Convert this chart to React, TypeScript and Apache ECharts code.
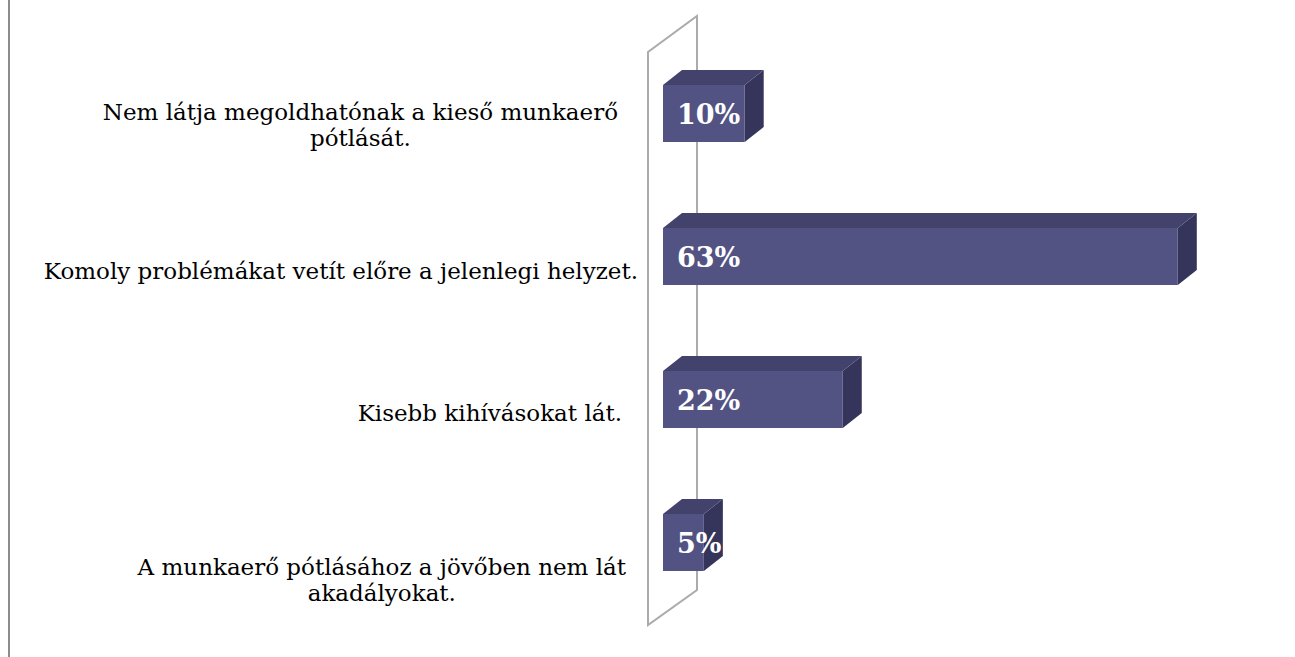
import React, { useEffect, useRef } from "react";
import * as echarts from "echarts";

const categories = [
  "Nem látja megoldhatónak a kieső munkaerő\npótlását.",
  "Komoly problémákat vetít előre a jelenlegi helyzet.",
  "Kisebb kihívásokat lát.",
  "A munkaerő pótlásához a jövőben nem lát\nakadályokat.",
];
const values = [10, 63, 22, 5];
const valueAxisMax = 70;

// per-category label nudges (layout only): [top, right, bottom, left] padding
const labelPadding = [
  [8, 20, 0, 0],
  [0, 0, 2, 0],
  [0, 16, 18, 0],
  [14, 12, 0, 0],
];

const W = 1295;
const H = 657;
const GRID_LEFT = 663;
const GRID_TOP = 42;
const GRID_HEIGHT = 572;
const GRID_WIDTH = 572;
const LABEL_TOP = 45.6;
const LABEL_HEIGHT = 602.8;
const BAR_H = 57;
const DEPTH_X = 19;
const DEPTH_Y = 15;
const FRONT = "#535383";
const TOP = "#42426C";
const SIDE = "#35355B";
const WALL = "#ABABAB";
const FONT = '"DejaVu Serif", Georgia, serif';

export default function App() {
  const ref = useRef<HTMLDivElement>(null);
  useEffect(() => {
    document.body.style.margin = "0";
    const chart = echarts.init(ref.current!, undefined, { renderer: "svg" });
    const wallFrontX = GRID_LEFT - 15;
    const wallBackX = GRID_LEFT + 34;
    const wallTop = GRID_TOP + 10;
    const wallBottom = GRID_TOP + GRID_HEIGHT + 11;
    const option: any = {
      animation: false,
      backgroundColor: "#ffffff",
      grid: [
        { left: GRID_LEFT, top: GRID_TOP, width: GRID_WIDTH, height: GRID_HEIGHT },
        { left: GRID_LEFT, top: LABEL_TOP, width: GRID_WIDTH, height: LABEL_HEIGHT },
      ],
      xAxis: [
        { type: "value", min: 0, max: valueAxisMax, show: false, gridIndex: 0 },
        { type: "value", min: 0, max: valueAxisMax, show: false, gridIndex: 1 },
      ],
      yAxis: [
        { type: "category", data: categories, inverse: true, show: false, gridIndex: 0 },
        {
          type: "category",
          data: categories.map((c, i) => ({ value: c, textStyle: { padding: labelPadding[i] } })),
          inverse: true,
          gridIndex: 1,
          axisLine: { show: false },
          axisTick: { show: false },
          splitLine: { show: false },
          axisLabel: {
            interval: 0,
            margin: 25,
            formatter: (s: string) => s.split("\n").map((l) => `{c|${l}}`).join("\n"),
            rich: {
              c: { fontSize: 23, fontFamily: FONT, color: "#000000", lineHeight: 26, align: "center" },
            },
          },
        },
      ],
      graphic: [
        {
          type: "line",
          z: 0,
          shape: { x1: 9, y1: 0, x2: 9, y2: H },
          style: { stroke: "#8C8C8C", lineWidth: 2 },
        },
        {
          type: "polygon",
          z: 0,
          shape: {
            points: [
              [wallFrontX, wallBottom],
              [wallFrontX, wallTop],
              [wallBackX, wallTop - 36],
              [wallBackX, wallBottom - 35],
            ],
          },
          style: { fill: "none", stroke: WALL, lineWidth: 2 },
        },
      ],
      series: [
        {
          type: "custom",
          xAxisIndex: 0,
          yAxisIndex: 0,
          z: 5,
          encode: { x: 0, y: 1 },
          data: values.map((v, i) => [v, i]),
          renderItem: (params: any, api: any) => {
            const v = api.value(0);
            const idx = api.value(1);
            const start = api.coord([0, idx]);
            const end = api.coord([v, idx]);
            const x0 = start[0];
            const x1 = end[0];
            const yc = start[1];
            const yt = yc - BAR_H / 2;
            const yb = yc + BAR_H / 2;
            return {
              type: "group",
              children: [
                {
                  type: "polygon",
                  shape: {
                    points: [
                      [x1, yt],
                      [x1 + DEPTH_X, yt - DEPTH_Y],
                      [x1 + DEPTH_X, yb - DEPTH_Y],
                      [x1, yb],
                    ],
                  },
                  style: { fill: SIDE },
                },
                {
                  type: "polygon",
                  shape: {
                    points: [
                      [x0, yt],
                      [x0 + DEPTH_X, yt - DEPTH_Y],
                      [x1 + DEPTH_X, yt - DEPTH_Y],
                      [x1, yt],
                    ],
                  },
                  style: { fill: TOP },
                },
                {
                  type: "rect",
                  shape: { x: x0, y: yt, width: x1 - x0, height: BAR_H },
                  style: { fill: FRONT },
                },
                {
                  type: "text",
                  x: x0 + 14,
                  y: yc + 1,
                  style: {
                    text: `${v}%`,
                    fill: "#ffffff",
                    font: `bold 27px ${FONT}`,
                    align: "left",
                    verticalAlign: "middle",
                  },
                },
              ],
            };
          },
        },
      ],
    };
    chart.setOption(option);
    return () => chart.dispose();
  }, []);
  return <div ref={ref} style={{ width: W, height: H }} />;
}
